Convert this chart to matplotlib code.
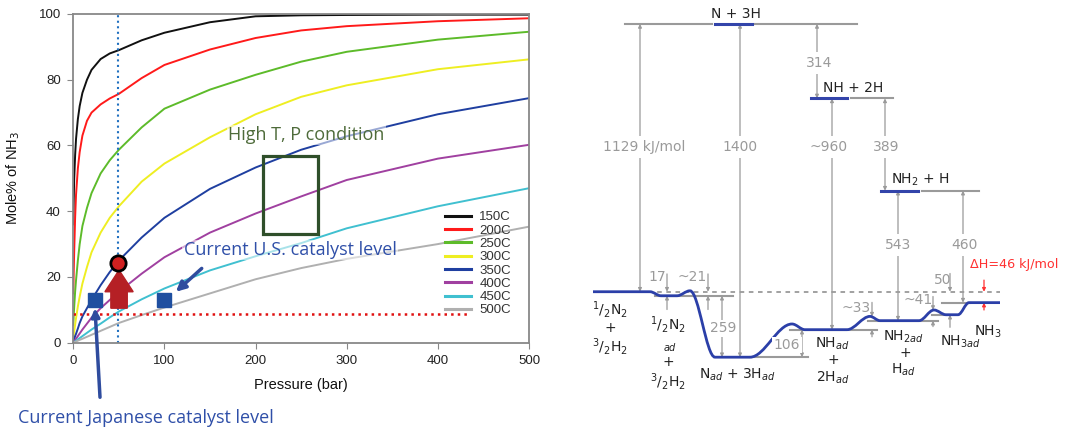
import matplotlib
matplotlib.use("Agg")
import matplotlib.pyplot as plt
from matplotlib.path import Path
from matplotlib.patches import PathPatch, Rectangle, FancyArrow

# ---- left chart data: equilibrium NH3 mole% vs pressure ----
pressure = [0, 0.5, 1, 2, 3, 5, 7, 10, 15, 20, 30, 40, 50, 75, 100, 150, 200, 250, 300, 400, 500]
nh3_150 = [36, 44, 50, 57, 62, 68, 72, 76, 80, 83, 86.3, 88, 89, 92, 94.3, 97.5, 99.3, 99.6, 99.7, 99.8, 99.8]
nh3_200 = [15, 22, 28, 38, 45, 53, 58, 63, 67.5, 70, 72.5, 74.3, 75.7, 80.5, 84.5, 89.2, 92.7, 95, 96.3, 97.8, 98.7]
nh3_250 = [5.5, 8.5, 11, 15.5, 19, 25, 30, 35.5, 41, 45.5, 51.5, 55.5, 58.7, 65.5, 71.2, 77, 81.5, 85.5, 88.5, 92.2, 94.6]
nh3_300 = [1.5, 2.5, 3.5, 5.5, 7.5, 11, 14, 18, 23, 27.5, 33.5, 38, 41.5, 49, 54.5, 62.5, 69.5, 74.8, 78.3, 83.2, 86.2]
nh3_350 = [0.5, 0.7, 1, 2, 2.7, 4.3, 6, 8, 10.5, 13, 17.5, 21.5, 25, 32, 38, 46.8, 53.3, 58.7, 62.8, 69.5, 74.4]
nh3_400 = [0, 0.2, 0.4, 0.8, 1.2, 2, 2.8, 4, 5.8, 7.6, 10.5, 13, 15.5, 21, 26, 33.5, 39.3, 44.5, 49.5, 56, 60.2]
nh3_450 = [0, 0.1, 0.2, 0.4, 0.6, 1, 1.4, 2, 3, 4, 5.8, 7.7, 9.5, 13.2, 16.5, 22, 26.3, 30.3, 34.8, 41.5, 47]
nh3_500 = [0, 0.06, 0.12, 0.24, 0.36, 0.6, 0.85, 1.2, 1.8, 2.4, 3.6, 4.8, 6, 8.4, 10.7, 15, 19.3, 22.7, 25.5, 30, 35.3]

temps = ["150C", "200C", "250C", "300C", "350C", "400C", "450C", "500C"]
series = [nh3_150, nh3_200, nh3_250, nh3_300, nh3_350, nh3_400, nh3_450, nh3_500]
colors = ["#111111", "#FF1A1A", "#5DBB2A", "#EEEE22", "#1F3FA0", "#A040A0", "#40C0D0", "#B0B0B0"]

target_point = (48.5, 24.2)
japan_point = (23.9, 13.0)
us_point = (99, 13.0)
current_level = 8.7
design_pressure = 49.5
box_p = (208, 268)
box_pct = (33.1, 56.8)

# ---- right chart data: energy levels (kJ/mol) ----
path_x = [593, 650, 661, 677, 690, 715, 750, 792, 805, 847, 870, 880, 919, 934, 946, 958, 969, 1000]
path_E = [0, 0, -17, -17, 4, -276, -276, -136, -160, -160, -104, -122, -122, -77, -97, -97, -46, -46]

E_N3H, E_NH2H, E_NH2_H = 1129, 815, 426
E_N2ad, E_Nad, E_NHad, E_NH2ad, E_NH3ad, E_NH3 = -17, -276, -160, -122, -97, -46

gray_levels = [(625, 712, E_N3H), (755, 857, E_N3H), (851, 893, E_NH2H), (922, 979, E_NH2_H),
               (655, 733, E_N2ad), (750, 808, E_Nad), (790, 877, E_NHad), (868, 938, E_NH2ad),
               (932, 948, E_NH3ad), (942, 970, E_NH3)]
blue_levels = [(715, 752, E_N3H), (811, 847, E_NH2H), (881, 918, E_NH2_H)]

big_arrows = [(640, 0, E_N3H, "1129 kJ/mol", 644, 610),
              (740, E_Nad, E_N3H, "1400", 740, 610),
              (817, E_NH2H, E_N3H, "314", 819, 964),
              (832, E_NHad, E_NH2H, "~960", 829, 610),
              (885, E_NH2_H, E_NH2H, "389", 886, 610),
              (898, E_NH2ad, E_NH2_H, "543", 898, 197),
              (963, E_NH3, E_NH2_H, "460", 964, 197)]
small_arrows = [(667, "17", 657, 63, (75, 0), (-75, E_N2ad)),
                (708, "~21", 692, 63, (75, 0), (-75, E_N2ad)),
                (872, "~33", 856, -70, (-45, -105), (-190, E_NHad)),
                (933, "~41", 918, -35, (-20, -77), (-147, E_NH2ad)),
                (950, "50", 943, 49, (77, 0), (-150, E_NH3ad))]
gap_arrows = [(722, E_N2ad, E_Nad, "259", 723, -155),
              (802, E_Nad, E_NHad, "106", 787, -225)]

fig = plt.figure(figsize=(10.67, 4.3), dpi=100)

# ================= left chart =================
ax = fig.add_axes([73.3 / 1067, 87.3 / 430, 455.7 / 1067, 328.7 / 430])
lf = "Liberation Sans"
for vals, lab, c in zip(series, temps, colors):
    ax.plot(pressure, vals, color=c, lw=1.4, label=lab)

ax.set_xlim(0, 500)
ax.set_ylim(0, 100)
ax.set_xticks(range(0, 501, 100))
ax.set_yticks(range(0, 101, 20))
for s in ax.spines.values():
    s.set_color("#888888")
    s.set_linewidth(1.3)
ax.tick_params(direction="out", length=4, color="#888888", labelsize=9.5, labelcolor="#222222", pad=5)
for t in ax.get_xticklabels() + ax.get_yticklabels():
    t.set_family(lf)
ax.set_xlabel("Pressure (bar)", family=lf, fontsize=10.5, labelpad=8, color="#111111")
ax.set_ylabel("Mole% of NH$_3$", family=lf, fontsize=10.5, labelpad=12, color="#111111")

leg = ax.legend(loc="upper left", bbox_to_anchor=(0.8157, 0.40), borderaxespad=0, borderpad=0,
                frameon=False, labelspacing=0.08, handlelength=2.0, handletextpad=0.6,
                prop={"family": lf, "size": 9.5})
for h in leg.get_lines():
    h.set_linewidth(2.2)
for t in leg.get_texts():
    t.set_color("#333333")

ax.plot([design_pressure, design_pressure], [0, 100], color="#2070C0", ls=":", lw=1.5)
ax.plot([0, 434], [current_level, current_level], color="#E01010", ls=":", lw=1.8)

ax.add_patch(Rectangle((box_p[0], box_pct[0]), box_p[1] - box_p[0], box_pct[1] - box_pct[0],
                       fill=False, edgecolor="#2F4F2A", lw=2.3, zorder=5))
ax.text(256, 63.2, "High T, P condition", family="Open Sans", fontsize=13, color="#4E6B3A",
        ha="center", va="center", zorder=4,
        bbox=dict(facecolor="white", edgecolor="none", alpha=0.55, pad=1))
ax.text(238, 28.2, "Current U.S. catalyst level", family="Open Sans", fontsize=13, color="#2F4FA8",
        ha="center", va="center", zorder=4,
        bbox=dict(facecolor="white", edgecolor="none", alpha=0.55, pad=1))

ax.add_patch(FancyArrow(50.2, 10.5, 0, target_point[1] - 2.1 - 10.5, width=18, head_width=31,
                        head_length=6.6, length_includes_head=True, color="#B52025", zorder=6))
ax.plot(*target_point, "o", ms=11, mfc="#D02020", mec="black", mew=2, zorder=7)
ax.plot(*japan_point, "s", ms=9.5, color="#1F4FA0", zorder=7)
ax.plot(*us_point, "s", ms=9.5, color="#1F4FA0", zorder=7)

ax.annotate("", xy=(112.6, 15.5), xytext=(140.9, 22.6),
            arrowprops=dict(arrowstyle="-|>", color="#2F4C9E", lw=2.5, mutation_scale=14,
                            shrinkA=0, shrinkB=0), zorder=8)
ax.annotate("", xy=(23.8, 10.5), xytext=(29.3, -16.6), annotation_clip=False,
            arrowprops=dict(arrowstyle="-|>", color="#2F4C9E", lw=2.5, mutation_scale=12,
                            shrinkA=0, shrinkB=0), zorder=8)
fig.text(18 / 1067, 1 - 418 / 430, "Current Japanese catalyst level", family="Open Sans",
         fontsize=13, color="#2F4FA8", ha="left", va="center")

# ================= right chart: energy diagram =================
ax2 = fig.add_axes([560 / 1067, 0, 507 / 1067, 1])
ax2.set_xlim(560, 1067)
ax2.set_ylim(-583, 1230)
ax2.axis("off")

gcol = "#9A9A9A"
ax2.plot([593, 1000], [0, 0], color="#888888", ls=(0, (3, 3)), lw=1.1, zorder=1)
for x0, x1, e in gray_levels:
    ax2.plot([x0, x1], [e, e], color=gcol, lw=1.5, zorder=2)
for x0, x1, e in blue_levels:
    ax2.plot([x0, x1], [e, e], color="#3344AA", lw=2.2, zorder=3)

# reaction path drawn as Bezier segments between the plateau / barrier points
verts = [(path_x[0], path_E[0])]
codes = [Path.MOVETO]
for i in range(1, len(path_x)):
    x0, e0, x1, e1 = path_x[i - 1], path_E[i - 1], path_x[i], path_E[i]
    if e0 == e1:
        verts.append((x1, e1))
        codes.append(Path.LINETO)
    else:
        d = (x1 - x0) * 0.35
        verts += [(x0 + d, e0), (x1 - d, e1), (x1, e1)]
        codes += [Path.CURVE4] * 3
ax2.add_patch(PathPatch(Path(verts, codes), fill=False, edgecolor="#2B3FA8", lw=2.0, zorder=4))


def arrow(x, e_from, e_to, color=gcol, style="-|>"):
    ax2.annotate("", xy=(x, e_to), xytext=(x, e_from),
                 arrowprops=dict(arrowstyle=style, color=color, lw=0.9, mutation_scale=5,
                                 shrinkA=0, shrinkB=0), zorder=2)


for x, e0, e1, lab, lx, le in big_arrows:
    arrow(x, e0, e1, style="<|-|>")
    ax2.text(lx, le, lab, color=gcol, fontsize=10, ha="center", va="center", zorder=5,
             bbox=dict(facecolor="white", edgecolor="none", pad=3))
for x, e0, e1, lab, lx, le in gap_arrows:
    arrow(x, e0, e1, style="<|-|>")
    ax2.text(lx, le, lab, color=gcol, fontsize=10, ha="center", va="center", zorder=5,
             bbox=dict(facecolor="white", edgecolor="none", pad=1))
for x, lab, lx, le, top, bot in small_arrows:
    arrow(x, top[0], top[1])
    arrow(x, bot[0], bot[1])
    ax2.text(lx, le, lab, color=gcol, fontsize=10, ha="center", va="center", zorder=5)

arrow(984, 49, 0, color="#FF3030")
arrow(984, -77, E_NH3, color="#FF3030")
ax2.text(970, 113, "ΔH=46 kJ/mol", color="#FF3030", fontsize=9.2, ha="left", va="center")

kc = "#222222"
state_labels = [(736, 1171, "N + 3H"), (853, 858, "NH + 2H"), (920, 471, "NH$_2$ + H"),
                (610, -77, "$^1/_2$N$_2$"), (610, -155, "+"), (610, -232, "$^3/_2$H$_2$"),
                (668, -140, "$^1/_2$N$_2$"), (668, -295, "+"), (668, -380, "$^3/_2$H$_2$"),
                (737, -351, "N$_{\\mathit{ad}}$ + 3H$_{\\mathit{ad}}$"),
                (832, -218, "NH$_{\\mathit{ad}}$"), (833, -288, "+"), (833, -365, "2H$_{\\mathit{ad}}$"),
                (903, -190, "NH$_{\\mathit{2ad}}$"), (905, -260, "+"), (903, -330, "H$_{\\mathit{ad}}$"),
                (960, -211, "NH$_{\\mathit{3ad}}$"), (988, -169, "NH$_3$")]
for x, e, lab in state_labels:
    ax2.text(x, e, lab, color=kc, fontsize=10, ha="center", va="center", zorder=6)
ax2.text(670, -239, "ad", color=kc, fontsize=7, style="italic", ha="center", va="center")

fig.savefig("out.png", dpi=100)
